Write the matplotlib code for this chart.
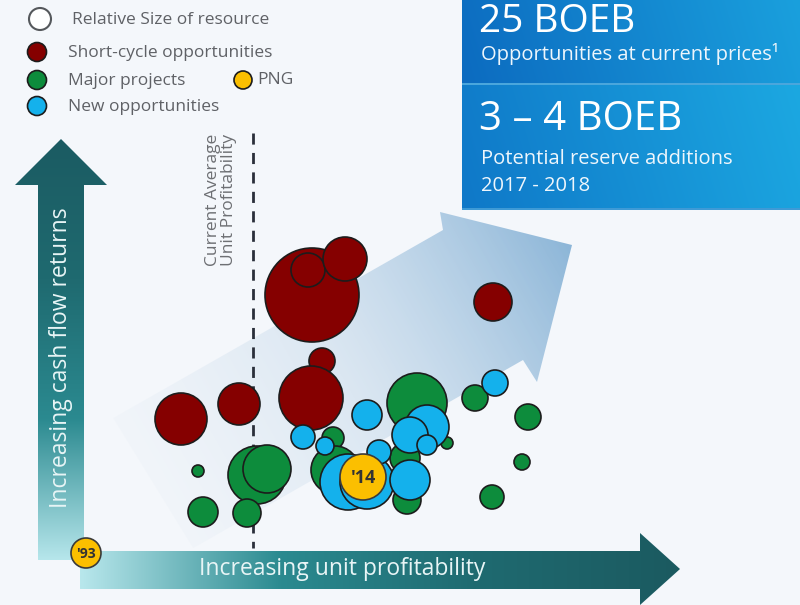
import numpy as np
import matplotlib.pyplot as plt
from matplotlib.patches import Circle, Polygon, Rectangle
from matplotlib.colors import to_rgb

plt.rcParams['font.family'] = ['Open Sans', 'DejaVu Sans']

# bubbles: position on the chart (px) and radius ~ relative size of resource
red_x = [312, 308, 345, 322, 311, 181, 239, 493]
red_y = [295, 270, 259, 361, 398, 419, 404, 302]
red_r = [47, 17, 22, 13, 32, 26, 21, 19]

green_x = [198, 257, 267, 203, 247, 333, 335, 417, 405, 407, 475, 528, 522, 492, 447]
green_y = [471, 475, 469, 512, 513, 438, 470, 403, 458, 500, 398, 417, 462, 497, 443]
green_r = [6, 29, 24, 15, 14, 11, 24, 30, 15, 14, 13, 13, 8, 12, 6]

blue_x = [367, 303, 325, 348, 367, 379, 427, 410, 427, 410, 495]
blue_y = [415, 437, 446, 482, 482, 452, 427, 435, 445, 480, 383]
blue_r = [15, 12, 9, 28, 27, 12, 22, 18, 10, 20, 13]

png_x = [363, 86]
png_y = [477, 553]
png_r = [23, 15]
png_labels = ["'14", "'93"]

legend_items = ['Relative Size of resource', 'Short-cycle opportunities',
                'Major projects', 'New opportunities']

RED = '#850000'
GREEN = '#0d8c3c'
BLUE = '#14b1ec'
GOLD = '#fbbf00'
EDGE = '#1c1c1c'
BG = '#f4f7fb'

fig = plt.figure(figsize=(8, 6.05), dpi=100)
fig.patch.set_facecolor(BG)
ax = fig.add_axes([0, 0, 1, 1])
ax.set_xlim(0, 800)
ax.set_ylim(605, 0)
ax.axis('off')
ax.set_facecolor(BG)


def gradient_patch(verts, colors, vec, z, a0=1.0, a1=1.0):
    # fill a polygon with a linear gradient (list of colour stops) along vec
    poly = Polygon(verts, closed=True, facecolor='none', edgecolor='none')
    ax.add_patch(poly)
    verts = np.array(verts)
    x0, x1 = verts[:, 0].min(), verts[:, 0].max()
    y0, y1 = verts[:, 1].min(), verts[:, 1].max()
    xx, yy = np.meshgrid(np.linspace(x0, x1, 200), np.linspace(y0, y1, 200))
    p = xx * vec[0] + yy * vec[1]
    t = (p - p.min()) / (p.max() - p.min())
    stops = np.linspace(0, 1, len(colors))
    rgb = np.array([to_rgb(c) for c in colors])
    img = np.zeros((200, 200, 4))
    for k in range(3):
        img[..., k] = np.interp(t, stops, rgb[:, k])
    img[..., 3] = a0 + (a1 - a0) * t
    im = ax.imshow(img, extent=(x0, x1, y1, y0), origin='upper',
                   zorder=z, interpolation='bilinear')
    im.set_clip_path(poly)


# big diagonal arrow behind the bubbles
d = np.array([0.868, -0.495])
up_notch = np.array([443, 230])
lo_notch = np.array([523, 360])
diag = [tuple(up_notch - d * 380), tuple(up_notch), (440, 212), (572, 245),
        (537, 382), tuple(lo_notch), tuple(lo_notch - d * 380)]
gradient_patch(diag, ['#dfe8f2', '#c3d8ea', '#86b2d6'], d, 1, a0=0.0, a1=1.0)

# vertical axis arrow
vert = [(38, 560), (84, 560), (84, 185), (107, 185), (61, 139), (15, 185), (38, 185)]
gradient_patch(vert, ['#b6e6eb', '#2b8a90', '#1f6a70', '#1b5b62'], (0, -1), 2)
ax.text(61, 358, 'Increasing cash flow returns', rotation=90, ha='center',
        va='center', color='#e8f5f6', fontsize=16.5, zorder=3)

# horizontal axis arrow
horiz = [(80, 551), (640, 551), (640, 533), (680, 569), (640, 605),
         (640, 589), (80, 589)]
gradient_patch(horiz, ['#b8e7ec', '#2b8a90', '#1f6a70', '#1b5a60'], (1, 0), 2)
ax.text(342, 569, 'Increasing unit profitability', ha='center', va='center',
        color='#e8f5f6', fontsize=16.5, zorder=3)

# current average unit profitability
ax.plot([253, 253], [133, 548], color='#2a2f3a', lw=2, ls=(0, (4, 3)), zorder=2)
ax.text(221, 200, 'Current Average\nUnit Profitability', rotation=90,
        ha='center', va='center', color='#6d6f73', fontsize=12.5,
        linespacing=1.05, zorder=3)


def bubbles(xs, ys, rs, color, z):
    for x, y, r in zip(xs, ys, rs):
        ax.add_patch(Circle((x, y), r, facecolor=color, edgecolor=EDGE,
                            lw=1.2, zorder=z))


bubbles(red_x, red_y, red_r, RED, 5)
bubbles(green_x[:5], green_y[:5], green_r[:5], GREEN, 5)
bubbles(green_x[5:], green_y[5:], green_r[5:], GREEN, 4)
bubbles(blue_x, blue_y, blue_r, BLUE, 6)
for x, y, r, lab in zip(png_x, png_y, png_r, png_labels):
    ax.add_patch(Circle((x, y), r, facecolor=GOLD, edgecolor='#3a3a3a',
                        lw=1.2, zorder=7))
    ax.text(x, y + 1, lab, ha='center', va='center', color='#333333',
            fontsize=13 if r > 20 else 10, fontweight='bold', zorder=8)

# legend
leg_y = [19, 52, 80, 106]
leg_c = ['none', RED, GREEN, BLUE]
for y, c, lab in zip(leg_y, leg_c, legend_items):
    if c == 'none':
        ax.add_patch(Circle((40, y), 11, facecolor='white', edgecolor='#55585c',
                            lw=1.5, zorder=5))
        ax.text(72, y + 1, lab, ha='left', va='center', color='#5f6166',
                fontsize=12.5, zorder=5)
    else:
        ax.add_patch(Circle((37, y), 9.5, facecolor=c, edgecolor=EDGE,
                            lw=1.2, zorder=5))
        ax.text(68, y + 1, lab, ha='left', va='center', color='#5f6166',
                fontsize=12.5, zorder=5)
ax.add_patch(Circle((243, 80), 9, facecolor=GOLD, edgecolor=EDGE, lw=1.2, zorder=5))
ax.text(257, 80, 'PNG', ha='left', va='center', color='#5f6166', fontsize=12.5)

# blue summary box
gradient_patch([(462, 0), (800, 0), (800, 83), (462, 83)],
               ['#0c6bc0', '#1aa0dd'], (1, -0.3), 2)
gradient_patch([(462, 85), (800, 85), (800, 208), (462, 208)],
               ['#0f78c8', '#1ca8e1'], (1, -0.3), 2)
ax.add_patch(Rectangle((462, 83), 338, 2, facecolor='#4aa6dc', edgecolor='none', zorder=3))
ax.add_patch(Rectangle((462, 208), 338, 2, facecolor='#3e9ad6', edgecolor='none', zorder=3))
ax.text(479, 22, '25 BOEB', ha='left', va='center', color='white', fontsize=28, zorder=4)
ax.text(481, 54, 'Opportunities at current prices\u00b9', ha='left', va='center',
        color='#eef6fc', fontsize=14.5, zorder=4)
ax.text(479, 120, '3 \u2013 4 BOEB', ha='left', va='center', color='white',
        fontsize=29, zorder=4)
ax.text(481, 159, 'Potential reserve additions', ha='left', va='center',
        color='#eef6fc', fontsize=14.5, zorder=4)
ax.text(481, 186, '2017 - 2018', ha='left', va='center',
        color='#eef6fc', fontsize=14.5, zorder=4)

fig.savefig('out.png', dpi=100, facecolor=BG)
